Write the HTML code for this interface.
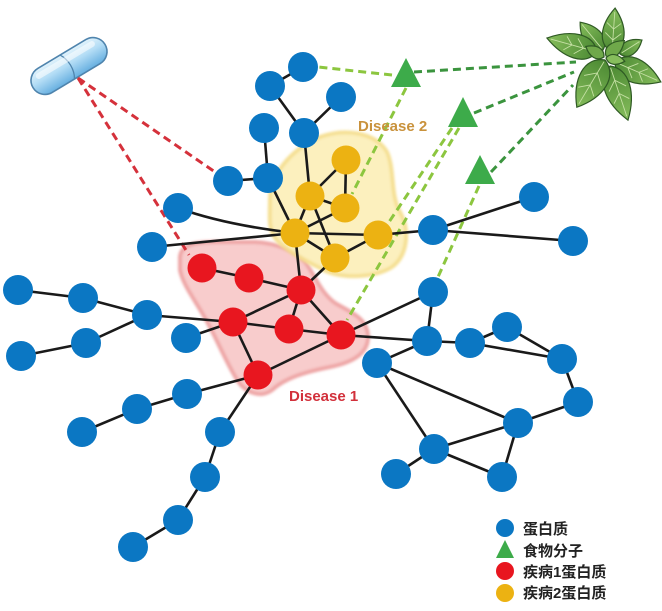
<!DOCTYPE html>
<html><head><meta charset="utf-8"><style>
html,body{margin:0;padding:0;background:#fff;}
svg{display:block;}
</style></head><body>
<svg width="662" height="611" viewBox="0 0 662 611" xmlns="http://www.w3.org/2000/svg">
<defs>
<filter id="soft" x="-10%" y="-10%" width="120%" height="120%"><feGaussianBlur stdDeviation="1.2"/></filter>
<linearGradient id="pillg" x1="0" y1="0" x2="0" y2="1">
<stop offset="0" stop-color="#e2f3fc"/><stop offset="0.45" stop-color="#b2dcf5"/><stop offset="1" stop-color="#66afe0"/>
</linearGradient>
<linearGradient id="leafg" x1="0" y1="0" x2="1" y2="0">
<stop offset="0" stop-color="#4c8a33"/><stop offset="1" stop-color="#86bd5c"/>
</linearGradient>
</defs>
<rect width="662" height="611" fill="#fff"/>

<path d="M180,258 C180,245 195,242 215,242 L255,242 C275,243 295,250 305,262 C315,275 320,292 335,303 C350,312 368,318 368,337 C368,355 350,363 330,367 C305,372 285,378 272,390 C262,398 245,394 236,378 C225,360 215,335 205,318 C195,300 183,285 180,270 Z" fill="#f8cccc" stroke="#eea6a6" stroke-width="4" filter="url(#soft)"/>
<path d="M270,200 C270,175 290,150 320,137 C345,128 375,132 387,152 C395,170 390,195 400,212 C410,230 408,255 392,267 C375,278 340,280 320,268 C300,258 285,250 275,238 C268,228 270,215 270,200 Z" fill="#fcf0bb" stroke="#f5de8e" stroke-width="4" filter="url(#soft)" opacity="0.95"/>

<g transform="translate(69,66) rotate(-31)">
<rect x="-42" y="-14" width="84" height="28" rx="14" ry="14" fill="url(#pillg)" stroke="#4f84ad" stroke-width="1.6"/>
<path d="M-2,-14 C3,-6 3,6 -2,14" fill="none" stroke="#4f84ad" stroke-width="1.3"/>
<rect x="-34" y="-10" width="68" height="6" rx="3" fill="#ffffff" opacity="0.55"/>
</g>

<g stroke="#2f5a24" stroke-width="1.2">
<g transform="translate(603,50) rotate(230.6)"><path d="M0,0 C5,-13 22,-12 36,0 C22,12 5,13 0,0Z" fill="url(#leafg)"/><path d="M2,0 L33,0" stroke="#c5e0a4" stroke-width="0.9"/></g>
<g transform="translate(620,54) rotate(-32.5)"><path d="M0,0 C4,-10 16,-9 26,0 C16,9 4,10 0,0Z" fill="url(#leafg)"/><path d="M2,0 L23,0" stroke="#c5e0a4" stroke-width="0.9"/></g>
<g transform="translate(597,52) rotate(195.6)"><path d="M0,0 C8,-17 31,-15 52,0 C31,15 8,17 0,0Z" fill="url(#leafg)"/><path d="M2,0 L48,0 M14,0 L22,-8 M26,0 L33,-7 M14,0 L22,8 M26,0 L33,7" stroke="#c5e0a4" stroke-width="0.9" fill="none"/></g>
<g transform="translate(612,52) rotate(-86)"><path d="M0,0 C7,-15 26,-14 44,0 C26,14 7,15 0,0Z" fill="url(#leafg)"/><path d="M2,0 L40,0 M12,0 L19,-8 M23,0 L29,-7 M12,0 L19,8 M23,0 L29,7" stroke="#c5e0a4" stroke-width="0.9" fill="none"/></g>
<g transform="translate(615,62) rotate(23.5)"><path d="M0,0 C8,-17 30,-15 50,0 C30,15 8,17 0,0Z" fill="url(#leafg)"/><path d="M2,0 L46,0 M14,0 L22,-8 M26,0 L33,-7 M14,0 L22,8 M26,0 L33,7" stroke="#c5e0a4" stroke-width="0.9" fill="none"/></g>
<g transform="translate(610,66) rotate(71.6)"><path d="M0,0 C9,-18 34,-16 57,0 C34,16 9,18 0,0Z" fill="url(#leafg)"/><path d="M2,0 L53,0 M15,0 L24,-9 M29,0 L37,-8 M15,0 L24,9 M29,0 L37,8" stroke="#c5e0a4" stroke-width="0.9" fill="none"/></g>
<g transform="translate(605,60) rotate(120.8)"><path d="M0,0 C8,-20 33,-18 55,0 C33,18 8,20 0,0Z" fill="url(#leafg)"/><path d="M2,0 L51,0 M15,0 L24,-10 M29,0 L37,-9 M15,0 L24,10 M29,0 L37,9" stroke="#c5e0a4" stroke-width="0.9" fill="none"/></g>
<g transform="translate(606,56) rotate(-40)"><path d="M0,0 C4,-9 14,-8 24,0 C14,8 4,9 0,0Z" fill="#6fa84a"/></g>
<g transform="translate(604,57) rotate(210)"><path d="M0,0 C4,-8 13,-7 21,0 C13,7 4,8 0,0Z" fill="#6fa84a"/></g>
<g transform="translate(606,58) rotate(10)"><path d="M0,0 C4,-7 12,-6 19,0 C12,6 4,7 0,0Z" fill="#86bd5c"/></g>
</g>

<g fill="none" stroke-width="3" stroke-dasharray="8,5">
<line x1="78" y1="78" x2="215" y2="172" stroke="#d5313b"/>
<line x1="78" y1="78" x2="189" y2="255" stroke="#d5313b"/>
<line x1="414" y1="72" x2="576" y2="62" stroke="#3b943e"/>
<line x1="474" y1="113" x2="574" y2="72" stroke="#3b943e"/>
<line x1="491" y1="172" x2="573" y2="85" stroke="#3b943e"/>
<line x1="392" y1="75" x2="318" y2="67" stroke="#8cc63f"/>
<line x1="406" y1="88" x2="352" y2="194" stroke="#8cc63f"/>
<line x1="452" y1="128" x2="389" y2="222" stroke="#8cc63f"/>
<line x1="459" y1="128" x2="347" y2="320" stroke="#8cc63f"/>
<line x1="479" y1="186" x2="438" y2="277" stroke="#8cc63f"/>
</g>

<g fill="#3dab4a">
<polygon points="406,58 391,87 421,87"/>
<polygon points="463,97 448,127 478,127"/>
<polygon points="480,155 465,184 495,184"/>
</g>

<g stroke="#1a1a1a" stroke-width="2.6" fill="none">
<line x1="303" y1="67" x2="270" y2="86"/>
<line x1="270" y1="86" x2="304" y2="133"/>
<line x1="341" y1="97" x2="304" y2="133"/>
<line x1="264" y1="128" x2="268" y2="178"/>
<line x1="228" y1="181" x2="268" y2="178"/>
<line x1="304" y1="133" x2="310" y2="196"/>
<line x1="268" y1="178" x2="295" y2="233"/>
<path d="M178,208 Q225,225 295,233"/>
<line x1="152" y1="247" x2="295" y2="233"/>
<line x1="310" y1="196" x2="346" y2="160"/>
<line x1="346" y1="160" x2="345" y2="208"/>
<line x1="310" y1="196" x2="345" y2="208"/>
<line x1="310" y1="196" x2="295" y2="233"/>
<line x1="310" y1="196" x2="335" y2="258"/>
<line x1="345" y1="208" x2="295" y2="233"/>
<line x1="295" y1="233" x2="378" y2="235"/>
<line x1="295" y1="233" x2="335" y2="258"/>
<line x1="378" y1="235" x2="335" y2="258"/>
<line x1="378" y1="235" x2="433" y2="230"/>
<line x1="433" y1="230" x2="534" y2="197"/>
<line x1="433" y1="230" x2="573" y2="241"/>
<line x1="295" y1="233" x2="301" y2="290"/>
<line x1="335" y1="258" x2="301" y2="290"/>
<line x1="202" y1="268" x2="249" y2="278"/>
<line x1="249" y1="278" x2="301" y2="290"/>
<line x1="301" y1="290" x2="233" y2="322"/>
<line x1="301" y1="290" x2="289" y2="329"/>
<line x1="301" y1="290" x2="341" y2="335"/>
<line x1="233" y1="322" x2="289" y2="329"/>
<line x1="289" y1="329" x2="341" y2="335"/>
<line x1="233" y1="322" x2="258" y2="375"/>
<line x1="258" y1="375" x2="341" y2="335"/>
<line x1="147" y1="315" x2="233" y2="322"/>
<line x1="186" y1="338" x2="233" y2="322"/>
<line x1="341" y1="335" x2="433" y2="292"/>
<line x1="341" y1="335" x2="427" y2="341"/>
<line x1="258" y1="375" x2="187" y2="394"/>
<line x1="258" y1="375" x2="220" y2="432"/>
<line x1="18" y1="290" x2="83" y2="298"/>
<line x1="83" y1="298" x2="147" y2="315"/>
<line x1="147" y1="315" x2="86" y2="343"/>
<line x1="86" y1="343" x2="21" y2="356"/>
<line x1="187" y1="394" x2="137" y2="409"/>
<line x1="137" y1="409" x2="82" y2="432"/>
<line x1="220" y1="432" x2="205" y2="477"/>
<line x1="205" y1="477" x2="178" y2="520"/>
<line x1="178" y1="520" x2="133" y2="547"/>
<line x1="433" y1="292" x2="427" y2="341"/>
<line x1="427" y1="341" x2="377" y2="363"/>
<line x1="427" y1="341" x2="470" y2="343"/>
<line x1="470" y1="343" x2="507" y2="327"/>
<line x1="470" y1="343" x2="562" y2="359"/>
<line x1="507" y1="327" x2="562" y2="359"/>
<line x1="562" y1="359" x2="578" y2="402"/>
<line x1="578" y1="402" x2="518" y2="423"/>
<line x1="377" y1="363" x2="518" y2="423"/>
<line x1="377" y1="363" x2="434" y2="449"/>
<line x1="434" y1="449" x2="518" y2="423"/>
<line x1="434" y1="449" x2="396" y2="474"/>
<line x1="434" y1="449" x2="502" y2="477"/>
<line x1="518" y1="423" x2="502" y2="477"/>
</g>

<g fill="#0b77c3">
<circle cx="303" cy="67" r="15"/><circle cx="270" cy="86" r="15"/><circle cx="341" cy="97" r="15"/>
<circle cx="264" cy="128" r="15"/><circle cx="304" cy="133" r="15"/><circle cx="228" cy="181" r="15"/>
<circle cx="268" cy="178" r="15"/><circle cx="178" cy="208" r="15"/><circle cx="152" cy="247" r="15"/>
<circle cx="433" cy="230" r="15"/><circle cx="534" cy="197" r="15"/><circle cx="573" cy="241" r="15"/>
<circle cx="433" cy="292" r="15"/><circle cx="427" cy="341" r="15"/><circle cx="470" cy="343" r="15"/>
<circle cx="507" cy="327" r="15"/><circle cx="562" cy="359" r="15"/><circle cx="377" cy="363" r="15"/>
<circle cx="578" cy="402" r="15"/><circle cx="518" cy="423" r="15"/><circle cx="434" cy="449" r="15"/>
<circle cx="396" cy="474" r="15"/><circle cx="502" cy="477" r="15"/><circle cx="18" cy="290" r="15"/>
<circle cx="83" cy="298" r="15"/><circle cx="147" cy="315" r="15"/><circle cx="86" cy="343" r="15"/>
<circle cx="21" cy="356" r="15"/><circle cx="186" cy="338" r="15"/><circle cx="187" cy="394" r="15"/>
<circle cx="137" cy="409" r="15"/><circle cx="82" cy="432" r="15"/><circle cx="220" cy="432" r="15"/>
<circle cx="205" cy="477" r="15"/><circle cx="178" cy="520" r="15"/><circle cx="133" cy="547" r="15"/>
</g>
<g fill="#ecb212">
<circle cx="346" cy="160" r="14.5"/><circle cx="310" cy="196" r="14.5"/><circle cx="345" cy="208" r="14.5"/>
<circle cx="295" cy="233" r="14.5"/><circle cx="378" cy="235" r="14.5"/><circle cx="335" cy="258" r="14.5"/>
</g>
<g fill="#e8161f">
<circle cx="202" cy="268" r="14.5"/><circle cx="249" cy="278" r="14.5"/><circle cx="301" cy="290" r="14.5"/>
<circle cx="233" cy="322" r="14.5"/><circle cx="289" cy="329" r="14.5"/><circle cx="341" cy="335" r="14.5"/>
<circle cx="258" cy="375" r="14.5"/>
</g>

<text x="358" y="131" font-family="Liberation Sans, sans-serif" font-weight="bold" font-size="15" fill="#c9923c">Disease 2</text>
<text x="289" y="401" font-family="Liberation Sans, sans-serif" font-weight="bold" font-size="15" fill="#d2303b">Disease 1</text>

<circle cx="505" cy="528" r="9" fill="#0b77c3"/>
<polygon points="505,540 496,558 514,558" fill="#3dab4a"/>
<circle cx="505" cy="571" r="9" fill="#e8161f"/>
<circle cx="505" cy="593" r="9" fill="#ecb212"/>
<g font-family="Liberation Sans, Noto Sans CJK SC, sans-serif" font-size="15" font-weight="bold" fill="#222">
<text x="523" y="534">蛋白质</text>
<text x="523" y="556">食物分子</text>
<text x="523" y="577">疾病1蛋白质</text>
<text x="523" y="598">疾病2蛋白质</text>
</g>
</svg>
</body></html>
